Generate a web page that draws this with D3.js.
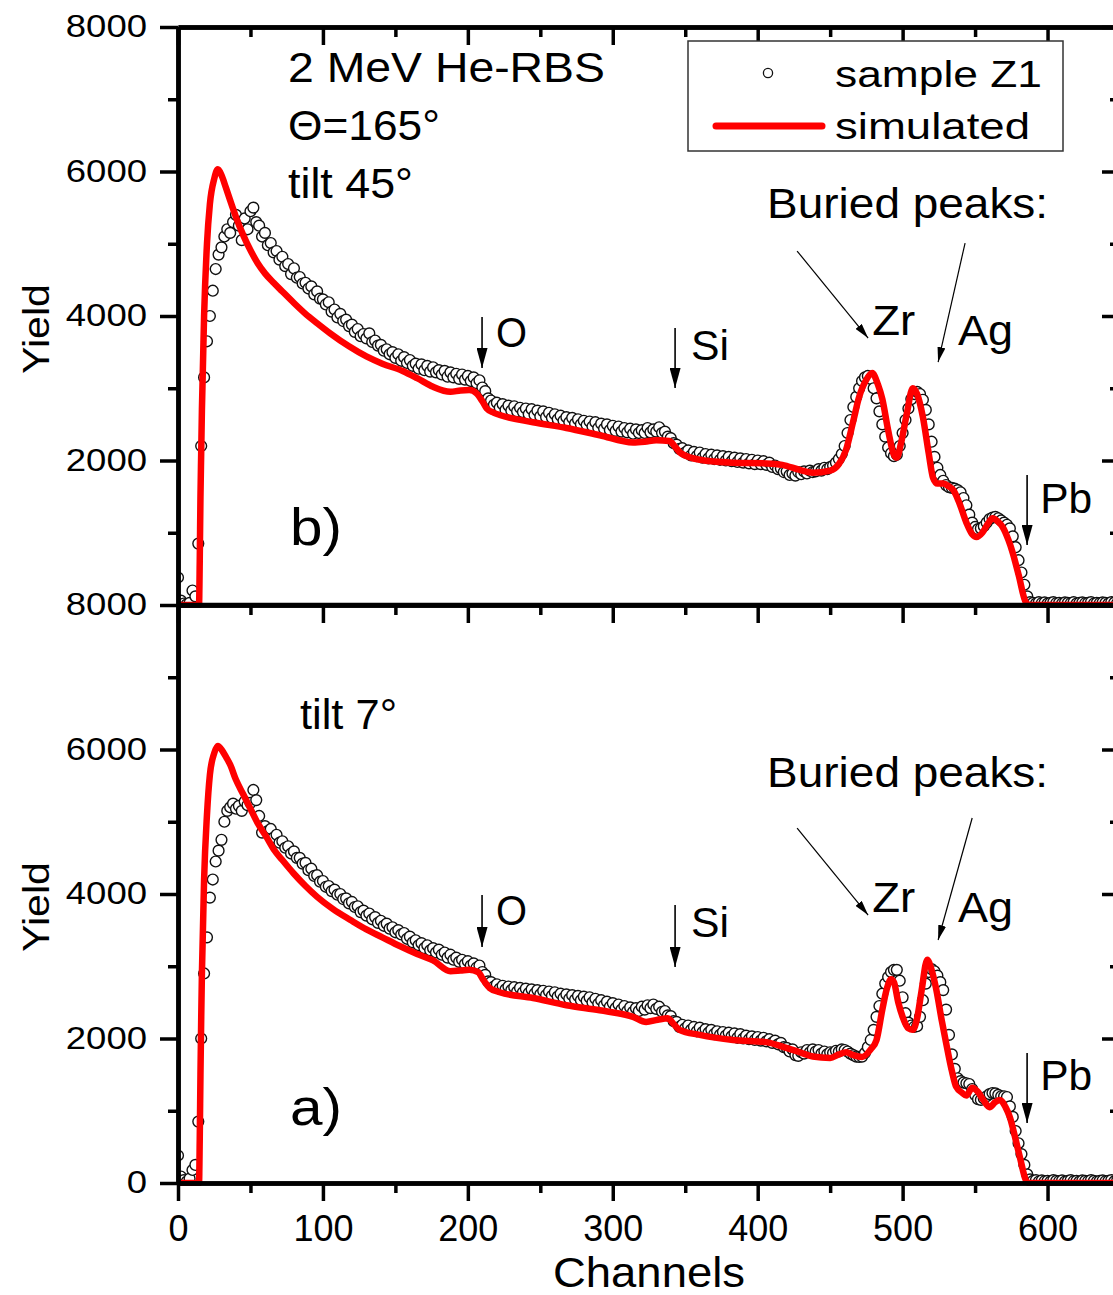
<!DOCTYPE html>
<html>
<head>
<meta charset="utf-8">
<script src="https://cdn.jsdelivr.net/npm/d3@7"></script>
<style>
  html, body { margin: 0; padding: 0; background: #fff; overflow: hidden; }
  svg { display: block; font-family: "Liberation Sans", Arial, Helvetica, sans-serif; }
</style>
</head>
<body>
<svg id="chart" width="1113" height="1295"></svg>
<script>
// ---- RBS spectra: measured yield every 2 channels, starting at channel 0 ----
const channelStep = 2;

// b) tilt 45 deg
const measuredTilt45 = [
  380, 60, 20, 10, 30, 200, 120, 850, 2200, 3150,
  3650, 4000, 4350, 4650, 4850, 4950, 5100, 5200, 5150, 5300,
  5400, 5250, 5050, 5350, 5200, 5450, 5500, 5300, 5250, 5100,
  5150, 4980, 5010, 4880, 4900, 4780, 4820, 4690, 4720, 4580,
  4660, 4530, 4540, 4450, 4460, 4380, 4410, 4300, 4340, 4240,
  4230, 4160, 4190, 4060, 4090, 3980, 4030, 3930, 3950, 3860,
  3880, 3780, 3820, 3720, 3750, 3690, 3760, 3640, 3660, 3590,
  3600, 3520, 3540, 3470, 3500, 3420, 3470, 3380, 3430, 3350,
  3390, 3310, 3340, 3270, 3330, 3250, 3310, 3230, 3290, 3220,
  3250, 3190, 3240, 3160, 3220, 3150, 3200, 3130, 3190, 3120,
  3170, 3100, 3150, 3070, 3110, 3010, 2960, 2860, 2830, 2770,
  2800, 2730, 2780, 2700, 2760, 2690, 2750, 2680, 2730, 2670,
  2720, 2640, 2710, 2630, 2690, 2610, 2680, 2600, 2660, 2590,
  2640, 2570, 2620, 2550, 2600, 2530, 2590, 2510, 2570, 2500,
  2550, 2490, 2540, 2470, 2530, 2450, 2510, 2440, 2500, 2420,
  2480, 2410, 2470, 2400, 2450, 2390, 2440, 2370, 2430, 2380,
  2420, 2380, 2450, 2390, 2430, 2400, 2460, 2380, 2400, 2330,
  2310, 2240, 2220, 2160, 2170, 2110, 2140, 2070, 2120, 2060,
  2110, 2040, 2090, 2030, 2080, 2020, 2070, 2010, 2060, 2000,
  2050, 1990, 2040, 1980, 2030, 1970, 2020, 1960, 2010, 1950,
  2000, 1950, 1990, 1940, 1970, 1910, 1930, 1880, 1890, 1840,
  1850, 1800, 1820, 1790, 1840, 1810, 1850, 1820, 1860, 1840,
  1850, 1880, 1860, 1900, 1880, 1910, 1930, 1970, 2020, 2090,
  2200, 2380, 2560, 2740, 2880, 3000, 3100, 3150, 3170, 3130,
  3000, 2860, 2680, 2500, 2330, 2180, 2100, 2060, 2080, 2200,
  2380, 2560, 2720, 2850, 2920, 2950, 2920, 2840, 2700, 2500,
  2260, 2050, 1900, 1800, 1720, 1660, 1630, 1620, 1610, 1590,
  1560, 1480, 1380, 1250, 1140, 1080, 1050, 1060, 1090, 1140,
  1190, 1210, 1220, 1200, 1170, 1140, 1110, 1060, 950, 800,
  620, 450, 280, 120, 40, 30, 20, 40, 25, 35,
  20, 30, 40, 25, 30, 20, 35, 30, 25, 40,
  20, 30, 35, 25, 30, 40, 20, 30, 25, 35,
  30, 20, 40, 30, 25, 30
];

// a) tilt 7 deg
const measuredTilt7 = [
  380, 90, 40, 20, 60, 180, 250, 850, 2000, 2900,
  3400, 3950, 4200, 4450, 4600, 4750, 5000, 5150, 5200, 5250,
  5180, 5220, 5150, 5280, 5230, 5260, 5440, 5300, 5080, 4850,
  4940, 4870, 4900, 4780, 4820, 4710, 4730, 4640, 4660, 4560,
  4590, 4500, 4500, 4420, 4430, 4330, 4350, 4250, 4260, 4170,
  4180, 4100, 4110, 4040, 4060, 3990, 4000, 3930, 3940, 3870,
  3890, 3820, 3830, 3750, 3770, 3700, 3730, 3650, 3680, 3600,
  3630, 3560, 3590, 3520, 3540, 3470, 3500, 3440, 3460, 3380,
  3410, 3330, 3360, 3290, 3320, 3250, 3290, 3220, 3250, 3190,
  3230, 3160, 3190, 3120, 3160, 3090, 3120, 3060, 3090, 3030,
  3070, 3010, 3040, 2980, 3010, 2920, 2880, 2790, 2780, 2720,
  2750, 2690, 2730, 2680, 2720, 2670, 2710, 2650, 2700, 2640,
  2690, 2630, 2680, 2620, 2670, 2610, 2660, 2600, 2650, 2590,
  2640, 2580, 2620, 2560, 2610, 2550, 2600, 2540, 2590, 2530,
  2580, 2520, 2570, 2500, 2550, 2480, 2530, 2460, 2510, 2440,
  2490, 2420, 2470, 2400, 2450, 2380, 2430, 2370, 2420, 2380,
  2440, 2400, 2460, 2420, 2470, 2410, 2440, 2370, 2380, 2320,
  2310, 2240, 2230, 2160, 2190, 2140, 2180, 2120, 2160, 2100,
  2150, 2090, 2130, 2080, 2120, 2060, 2100, 2050, 2090, 2040,
  2080, 2030, 2070, 2010, 2060, 2000, 2040, 1990, 2030, 1980,
  2020, 1970, 2010, 1960, 1990, 1940, 1970, 1920, 1940, 1880,
  1870, 1820, 1850, 1770, 1760, 1810, 1790, 1840, 1810, 1850,
  1820, 1840, 1790, 1820, 1780, 1810, 1800, 1830, 1820, 1850,
  1840, 1820, 1790, 1770, 1750, 1745, 1750, 1800, 1880, 1980,
  2120, 2300, 2450, 2620, 2760, 2850, 2920, 2950, 2950, 2800,
  2570, 2350, 2220, 2180, 2160, 2170, 2300, 2530, 2760, 2920,
  2960, 2930, 2870, 2780, 2670, 2400, 2050, 1780, 1580, 1450,
  1410, 1390, 1380, 1370, 1300, 1220, 1160, 1150, 1170, 1200,
  1230, 1245, 1240, 1220, 1200, 1200, 1190, 1060, 915, 720,
  550, 400, 250, 120, 50, 30, 40, 20, 35, 25,
  30, 20, 40, 30, 25, 35, 20, 30, 40, 25,
  30, 20, 35, 30, 25, 40, 30, 20, 30, 35,
  25, 30, 40, 20, 30, 25
];

// Simulated spectra: [channel, yield]
const simulatedTilt45 = [
  [0, 0], [14.5, 0], [15, 600], [15.5, 1500], [16, 2100], [16.5, 2700], [18, 4000],
  [20, 5000], [22, 5550], [25, 5900], [27.5, 6030], [30, 5950], [33, 5780], [36, 5600],
  [40, 5370], [45, 5120], [50, 4910], [55, 4730], [60, 4590], [66, 4460], [72, 4340],
  [80, 4180], [88, 4030], [96, 3900], [105, 3760], [118, 3580], [130, 3440], [141, 3340],
  [155, 3240], [165, 3140], [176, 3020], [188, 2950], [195, 2970], [201, 2975], [206, 2930],
  [210, 2820], [213, 2720], [218, 2660], [222, 2630], [245, 2530], [268, 2450], [291, 2350],
  [314, 2250], [322, 2260], [330, 2280], [339, 2270], [343, 2190], [347, 2100], [360, 2010],
  [383, 1970], [406, 1960], [417, 1940], [429, 1870], [438, 1830], [450, 1860], [456, 1950],
  [461, 2150], [466, 2550], [470, 2880], [475, 3120], [479, 3210], [483, 3050], [486, 2850],
  [490, 2420], [494, 2080], [496, 2040], [499, 2250], [503, 2660], [507, 3000], [510, 2920],
  [514, 2600], [518, 2100], [521, 1760], [524, 1680], [528, 1680], [532, 1640], [535, 1590],
  [539, 1420], [544, 1140], [548, 980], [551, 940], [555, 1000], [559, 1130], [562, 1200],
  [566, 1150], [569, 1080], [573, 900], [576, 720], [580, 420], [585, 40], [588, 0], [650, 0]
];

const simulatedTilt7 = [
  [0, 0], [14.5, 0], [15, 600], [15.5, 1500], [16, 2255], [16.5, 2900], [18, 4200],
  [20, 5100], [22, 5650], [25, 5950], [27.5, 6050], [30, 6000], [33, 5900], [36, 5790],
  [40, 5580], [45, 5380], [50, 5180], [55, 4980], [61, 4790], [66, 4620], [72, 4470],
  [80, 4280], [88, 4110], [96, 3960], [107, 3790], [119, 3640], [130, 3510], [141, 3400],
  [153, 3280], [165, 3170], [176, 3080], [188, 2930], [195, 2940], [201, 2950], [207, 2920],
  [211, 2800], [215, 2700], [222, 2640], [245, 2560], [268, 2460], [291, 2390], [314, 2300],
  [323, 2230], [331, 2260], [338, 2280], [342, 2200], [346, 2120], [360, 2050], [383, 1980],
  [406, 1950], [418, 1880], [429, 1810], [438, 1750], [450, 1730], [456, 1780], [461, 1810],
  [466, 1770], [472, 1745], [478, 1850], [482, 1980], [486, 2400], [489, 2680], [492, 2820],
  [494, 2780], [497, 2500], [500, 2300], [504, 2140], [507, 2120], [510, 2280], [513, 2650],
  [517, 3090], [520, 2950], [523, 2700], [527, 2250], [530, 1940], [534, 1550], [537, 1330],
  [541, 1250], [544, 1210], [548, 1320], [552, 1260], [556, 1140], [560, 1050], [564, 1120],
  [567, 1150], [571, 1050], [574, 910], [578, 600], [581, 350], [585, 40], [587, 0], [650, 0]
];

// Axis ticks
const xMajorTicks = [0, 100, 200, 300, 400, 500, 600];
const xMinorTicks = [50, 150, 250, 350, 450, 550, 650];
const yMajorTicks = [0, 2000, 4000, 6000, 8000];
const yMinorTicks = [1000, 3000, 5000, 7000];

// ---- layout ----
const svg = d3.select("#chart");
const FONT = '"Liberation Sans", Arial, Helvetica, sans-serif';
const plotLeft = 178, plotRight = 1120;
const x = d3.scaleLinear().domain([0, 650]).range([plotLeft, plotRight]);

const panels = [
  { id: "b", measured: measuredTilt45, simulated: simulatedTilt45, bottom: 605, top: 27 },
  { id: "a", measured: measuredTilt7,  simulated: simulatedTilt7,  bottom: 1183, top: 605 }
];
panels.forEach(p => { p.y = d3.scaleLinear().domain([0, 8000]).range([p.bottom, p.top]); });

// arrowhead markers
const defs = svg.append("defs");
function marker(id, len, wid) {
  defs.append("marker")
    .attr("id", id).attr("viewBox", `0 0 ${len} ${wid}`)
    .attr("refX", len).attr("refY", wid / 2)
    .attr("markerWidth", len).attr("markerHeight", wid)
    .attr("markerUnits", "userSpaceOnUse").attr("orient", "auto")
    .append("path").attr("d", `M0,0L${len},${wid / 2}L0,${wid}Z`).attr("fill", "#000");
}
marker("headBig", 20, 11);
marker("headThin", 15, 8);

function styleAxis(g, width) {
  g.select(".domain").attr("stroke", "#000").attr("stroke-width", 4.5);
  g.selectAll(".tick line").attr("stroke", "#000").attr("stroke-width", width || 3.5);
}

function text(g, str, px, py, size, len, anchor) {
  const t = g.append("text").attr("x", px).attr("y", py)
    .attr("font-size", size).attr("font-family", FONT).attr("fill", "#000")
    .attr("text-anchor", anchor || "start").text(str);
  if (len) t.attr("textLength", len).attr("lengthAdjust", "spacingAndGlyphs");
  return t;
}

panels.forEach((p, i) => {
  const g = svg.append("g");
  const y = p.y;

  // plot content, clipped to the frame
  defs.append("clipPath").attr("id", "clip-" + p.id)
    .append("rect").attr("x", plotLeft).attr("y", p.top)
    .attr("width", plotRight - plotLeft).attr("height", p.bottom - p.top + 3);
  const content = g.append("g").attr("clip-path", `url(#clip-${p.id})`);

  content.append("g").selectAll("circle")
    .data(p.measured)
    .join("circle")
    .attr("cx", (d, k) => x(k * channelStep))
    .attr("cy", d => y(d))
    .attr("r", 5.4)
    .attr("fill", "#fff")
    .attr("stroke", "#111")
    .attr("stroke-width", 1.4);

  const line = d3.line().x(d => x(d[0])).y(d => y(d[1])).curve(d3.curveMonotoneX);
  content.append("path").datum(p.simulated)
    .attr("d", line)
    .attr("fill", "none")
    .attr("stroke", "#ff0000")
    .attr("stroke-width", 6.5)
    .attr("stroke-linejoin", "round");

  // left axis with labels
  const left = g.append("g").attr("transform", `translate(${plotLeft},0)`)
    .call(d3.axisLeft(y).tickValues(i === 0 ? yMajorTicks.filter(v => v > 0) : yMajorTicks)
      .tickSize(18).tickSizeOuter(0).tickPadding(13).tickFormat(d3.format("d")));
  styleAxis(left);
  left.selectAll("text")
    .attr("font-size", 31).attr("font-family", FONT).attr("fill", "#000")
    .attr("textLength", d => String(d).length * 20.3)
    .attr("lengthAdjust", "spacingAndGlyphs");
  const leftMinor = g.append("g").attr("transform", `translate(${plotLeft},0)`)
    .call(d3.axisLeft(y).tickValues(yMinorTicks).tickSize(10).tickSizeOuter(0).tickFormat(""));
  styleAxis(leftMinor);

  // right axis, inward ticks
  const right = g.append("g").attr("transform", `translate(${plotRight},0)`)
    .call(d3.axisRight(y).tickValues(yMajorTicks).tickSize(-18).tickSizeOuter(0).tickFormat(""));
  styleAxis(right);
  const rightMinor = g.append("g").attr("transform", `translate(${plotRight},0)`)
    .call(d3.axisRight(y).tickValues(yMinorTicks).tickSize(-10).tickSizeOuter(0).tickFormat(""));
  styleAxis(rightMinor);

  // top axis, inward ticks
  const top = g.append("g").attr("transform", `translate(0,${p.top})`)
    .call(d3.axisTop(x).tickValues(xMajorTicks).tickSize(-18).tickSizeOuter(0).tickFormat(""));
  styleAxis(top);
  const topMinor = g.append("g").attr("transform", `translate(0,${p.top})`)
    .call(d3.axisTop(x).tickValues(xMinorTicks).tickSize(-10).tickSizeOuter(0).tickFormat(""));
  styleAxis(topMinor);

  // y axis title
  g.append("text")
    .attr("transform", `translate(49,${(p.top + p.bottom) / 2 + 13}) rotate(-90)`)
    .attr("text-anchor", "middle").attr("font-size", 37).attr("font-family", FONT)
    .attr("textLength", 90).attr("lengthAdjust", "spacingAndGlyphs")
    .text("Yield");
});

// bottom axis of the lower panel
const lower = panels[1];
const bottomAxis = svg.append("g").attr("transform", `translate(0,${lower.bottom})`)
  .call(d3.axisBottom(x).tickValues(xMajorTicks).tickSize(18).tickSizeOuter(0).tickPadding(14));
styleAxis(bottomAxis);
bottomAxis.selectAll("text").attr("font-size", 36).attr("font-family", FONT).attr("fill", "#000");
const bottomMinor = svg.append("g").attr("transform", `translate(0,${lower.bottom})`)
  .call(d3.axisBottom(x).tickValues(xMinorTicks).tickSize(10).tickSizeOuter(0).tickFormat(""));
styleAxis(bottomMinor);
// separator line between the panels
svg.append("line").attr("x1", plotLeft).attr("x2", plotRight)
  .attr("y1", panels[0].bottom).attr("y2", panels[0].bottom)
  .attr("stroke", "#000").attr("stroke-width", 4.5);

text(svg, "Channels", 649, 1287, 42, 192, "middle");

// ---- annotations ----
function arrow(g, p, c1, v1, c2, v2, head, w) {
  g.append("line")
    .attr("x1", x(c1)).attr("y1", p.y(v1)).attr("x2", x(c2)).attr("y2", p.y(v2))
    .attr("stroke", "#000").attr("stroke-width", w)
    .attr("marker-end", `url(#${head})`);
}

const ann = svg.append("g");
{
  const p = panels[0];
  text(ann, "2 MeV He-RBS", x(75.9), p.y(7238), 42, 317);
  text(ann, "\u0398=165\u00B0", x(75.9), p.y(6436), 42, 152);
  text(ann, "tilt 45\u00B0", x(75.9), p.y(5633), 42, 125);
  text(ann, "b)", x(77.3), p.y(830), 52, 52);
  text(ann, "Buried peaks:", x(406.5), p.y(5356), 42, 281);
  arrow(ann, p, 427.2, 4899, 476.2, 3695, "headThin", 1.2);
  text(ann, "Zr", x(479), p.y(3737), 42, 43);
  arrow(ann, p, 543.1, 5010, 524.5, 3363, "headThin", 1.2);
  text(ann, "Ag", x(538.3), p.y(3598), 42, 55);
  arrow(ann, p, 209.8, 3986, 209.8, 3280, "headBig", 1.6);
  text(ann, "O", x(219.5), p.y(3571), 42, 31);
  arrow(ann, p, 343, 3834, 343, 3003, "headBig", 1.6);
  text(ann, "Si", x(354), p.y(3391), 42, 38);
  arrow(ann, p, 585.9, 1799, 585.9, 830, "headBig", 1.6);
  text(ann, "Pb", x(594.9), p.y(1273), 42, 52);

  // legend
  const lg = ann.append("g");
  lg.append("rect").attr("x", 688).attr("y", 41).attr("width", 375).attr("height", 110)
    .attr("fill", "#fff").attr("stroke", "#333").attr("stroke-width", 1.5);
  lg.append("circle").attr("cx", 768).attr("cy", 73).attr("r", 4.6)
    .attr("fill", "#fff").attr("stroke", "#111").attr("stroke-width", 1.3);
  text(lg, "sample Z1", 835, 87, 37, 207);
  lg.append("line").attr("x1", 716).attr("x2", 822).attr("y1", 126).attr("y2", 126)
    .attr("stroke", "#ff0000").attr("stroke-width", 7).attr("stroke-linecap", "round");
  text(lg, "simulated", 835, 139, 37, 195);
}
{
  const p = panels[1];
  text(ann, "tilt 7\u00B0", x(84.2), p.y(6283), 42, 97);
  text(ann, "a)", x(77.3), p.y(803), 52, 52);
  text(ann, "Buried peaks:", x(406.5), p.y(5481), 42, 281);
  arrow(ann, p, 427.2, 4913, 476.2, 3709, "headThin", 1.2);
  text(ann, "Zr", x(479), p.y(3751), 42, 43);
  arrow(ann, p, 548, 5052, 524.5, 3363, "headThin", 1.2);
  text(ann, "Ag", x(538.3), p.y(3612), 42, 55);
  arrow(ann, p, 209.8, 3986, 209.8, 3266, "headBig", 1.6);
  text(ann, "O", x(219.5), p.y(3571), 42, 31);
  arrow(ann, p, 343, 3848, 343, 2989, "headBig", 1.6);
  text(ann, "Si", x(354), p.y(3405), 42, 38);
  arrow(ann, p, 585.9, 1799, 585.9, 830, "headBig", 1.6);
  text(ann, "Pb", x(594.9), p.y(1287), 42, 52);
}
</script>
</body>
</html>
